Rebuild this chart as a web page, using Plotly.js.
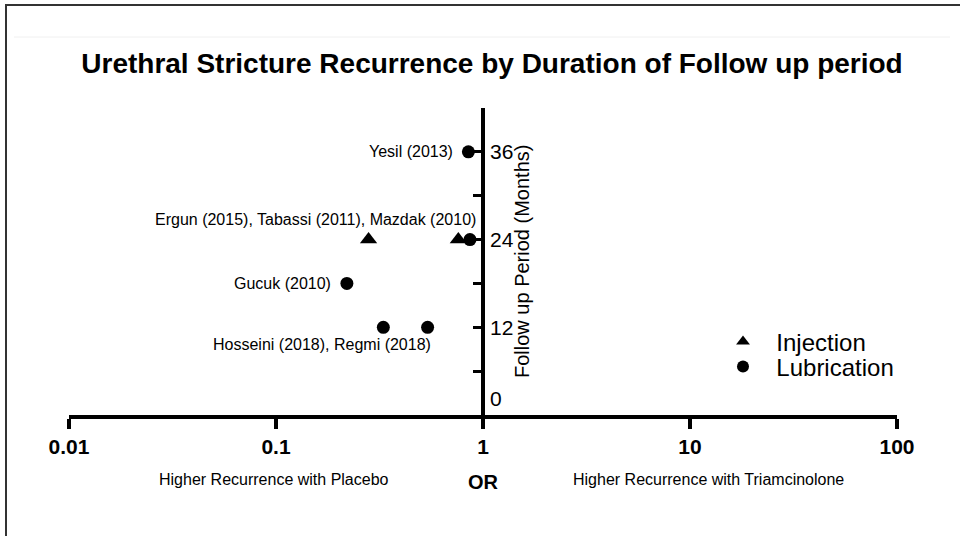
<!DOCTYPE html>
<html>
<head>
<meta charset="utf-8">
<script src="https://cdn.plot.ly/plotly-3.0.1.min.js"></script>
<style>html,body{margin:0;padding:0;background:#fff;}#chart{width:960px;height:536px;}</style>
</head>
<body>
<div id="chart"></div>
<script>
// Data
const injectionOR = [0.28, 0.76];
const injectionMonths = [24, 24];
const lubricationOR = [0.85, 0.865, 0.22, 0.33, 0.54];
const lubricationMonths = [36, 24, 18, 12, 12];
const studyLabels = ["Yesil (2013)", "Ergun (2015), Tabassi (2011), Mazdak (2010)", "Gucuk (2010)", "Hosseini (2018), Regmi (2018)"];
const studyLabelOR = [0.73, 0.946, 0.188, 0.573];
const studyLabelMonths = [36, 26.7, 18, 9.6];
const xTickVals = [0.01, 0.1, 1, 10, 100];
const xTickText = ["0.01", "0.1", "1", "10", "100"];
const yTickVals = [6, 12, 18, 24, 30, 36, 42];
const yLabelVals = [0, 12, 24, 36];
const yLabelText = ["0", "12", "24", "36"];

const FONT = "Liberation Sans, Arial, Helvetica, sans-serif";
const NB = "\u00a0\u00a0";

const traces = [
  {x: injectionOR, y: injectionMonths, type: "scatter", mode: "markers", name: NB + "Injection", legend: "legend",
   marker: {symbol: "triangle-up", size: 15, color: "#000"}},
  {x: lubricationOR, y: lubricationMonths, type: "scatter", mode: "markers", name: NB + "Lubrication", legend: "legend2",
   marker: {symbol: "circle", size: 13, color: "#000"}}
];

const plotW = 960 - 69 - 63, plotH = 536 - 108 - 121;
function px(x) { return (x - 69) / plotW; }
function py(y) { return (536 - 121 - y) / plotH; }

const annotations = [];
studyLabels.forEach((t, i) => {
  annotations.push({x: Math.log10(studyLabelOR[i]), y: studyLabelMonths[i], xref: "x", yref: "y",
    text: t, showarrow: false, xanchor: "right", yanchor: "middle",
    font: {family: FONT, size: 16, color: "#000"}});
});
yLabelVals.forEach((v, i) => {
  annotations.push({x: 0, y: v, xref: "x", yref: "y", text: yLabelText[i], showarrow: false,
    xanchor: "left", yanchor: "middle", xshift: 5, yshift: v === 0 ? 17 : 0,
    font: {family: FONT, size: 21, color: "#000"}});
});
annotations.push(
  {x: px(522), y: py(262), xref: "paper", yref: "paper", text: "Follow up Period (Months)", textangle: -90,
   showarrow: false, xanchor: "center", yanchor: "middle", font: {family: FONT, size: 20, color: "#000"}},
  {x: px(274), y: py(479), xref: "paper", yref: "paper", text: "Higher Recurrence with Placebo",
   showarrow: false, xanchor: "center", yanchor: "middle", font: {family: FONT, size: 16, color: "#000"}},
  {x: px(708), y: py(479), xref: "paper", yref: "paper", text: "Higher Recurrence with Triamcinolone",
   showarrow: false, xanchor: "center", yanchor: "middle", font: {family: FONT, size: 16, color: "#000"}},
  {x: px(483), y: py(482), xref: "paper", yref: "paper", text: "<b>OR</b>",
   showarrow: false, xanchor: "center", yanchor: "middle", font: {family: FONT, size: 20, color: "#000"}}
);

const legendStyle = (yy) => ({x: px(723), y: py(yy), xanchor: "left", yanchor: "middle", bgcolor: "rgba(0,0,0,0)",
  font: {family: FONT, size: 24, color: "#000"}, itemsizing: "constant"});

const layout = {
  width: 960, height: 536,
  paper_bgcolor: "#fff", plot_bgcolor: "#fff",
  margin: {l: 69, r: 63, t: 108, b: 121},
  showlegend: true,
  legend: legendStyle(342),
  legend2: legendStyle(367),
  xaxis: {type: "log", range: [-2, 2], tickvals: xTickVals, ticktext: xTickText,
    showgrid: false, zeroline: false, showline: true, linecolor: "#000", linewidth: 4,
    ticks: "outside", ticklen: 10, tickwidth: 4, tickcolor: "#000",
    tickfont: {family: FONT, size: 21, color: "#000", weight: "bold"}},
  yaxis: {range: [0, 42], anchor: "free", position: 0.5, side: "right",
    showgrid: false, zeroline: false, showline: true, linecolor: "#000", linewidth: 4,
    tickvals: yTickVals, showticklabels: false, ticks: "inside", ticklen: 8, tickwidth: 3, tickcolor: "#000"},
  title: {text: "<b>Urethral Stricture Recurrence by Duration of Follow up period</b>",
    x: 0.5125, xanchor: "center", y: 0.882, yanchor: "middle",
    font: {family: FONT, size: 28, color: "#000"}},
  annotations: annotations,
  shapes: [
    {type: "line", xref: "paper", yref: "paper", x0: px(6), x1: px(6), y0: py(5), y1: py(536), line: {color: "#333", width: 2}},
    {type: "line", xref: "paper", yref: "paper", x0: px(5), x1: px(960), y0: py(5), y1: py(5), line: {color: "#333", width: 2}},
    {type: "line", xref: "paper", yref: "paper", x0: px(14), x1: px(950), y0: py(37), y1: py(37), line: {color: "#f0f0f0", width: 1}}
  ]
};

Plotly.newPlot("chart", traces, layout, {displayModeBar: false, staticPlot: true});
</script>
</body>
</html>
